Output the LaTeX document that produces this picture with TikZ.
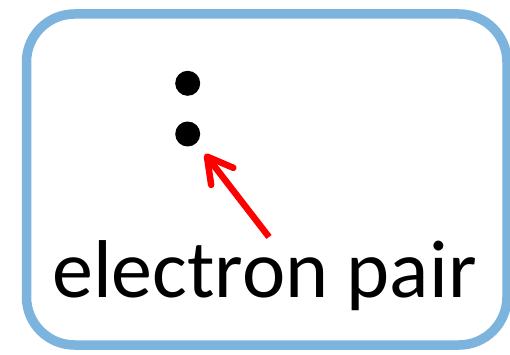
\documentclass[tikz,border=0pt]{standalone}
\usepackage{fontspec}
\setmainfont{Carlito}
\usetikzlibrary{arrows.meta}
\definecolor{frameblue}{RGB}{125,180,222}
\definecolor{arrowred}{RGB}{255,0,0}
\tikzset{
  frame/.style={draw=frameblue, line width=9.5pt, rounded corners=48pt},
  electron/.style={circle, fill=black, inner sep=0pt, minimum size=25pt},
  pointer/.style={draw=arrowred, line width=6.5pt,
    -{Straight Barb[length=25pt, width=28pt, line width=6.5pt, round]}},
  caption/.style={font=\fontsize{82pt}{90pt}\selectfont, anchor=base, inner sep=0pt}
}
\begin{document}
\begin{tikzpicture}[x=1pt, y=-1pt]
  \useasboundingbox (0,0) rectangle (510,355);
  % outer frame
  \draw[frame] (26.5,14) rectangle (507,345);
  % the two electrons
  \node[electron] (e1) at (187.7,83.3) {};
  \node[electron] (e2) at (187.7,134) {};
  % pointer from the label towards the pair
  \coordinate (tail) at (269,237);
  \coordinate (tip) at (205,154);
  \draw[pointer] (tail) -- (tip);
  % label
  \node[caption] (lbl) at (264.5,297) {electron pair};
\end{tikzpicture}
\end{document}
